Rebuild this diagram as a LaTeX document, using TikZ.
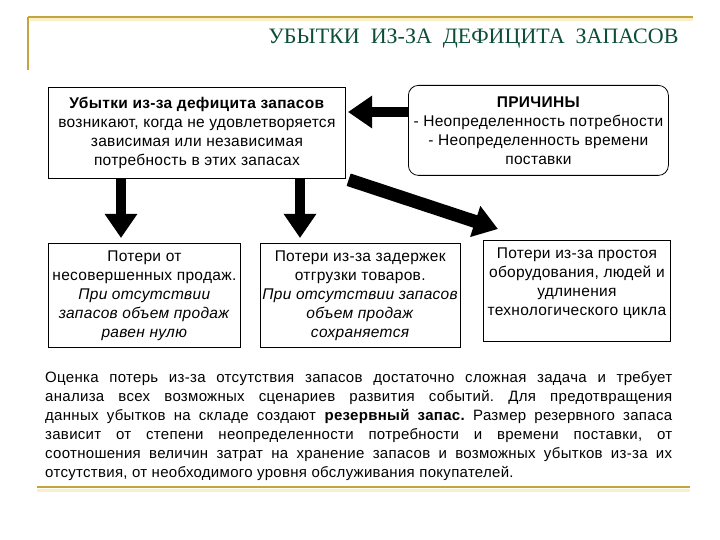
\documentclass[tikz,border=0pt]{standalone}
\usepackage{fontspec}
\setmainfont{Liberation Sans}[LetterSpace=2]
\newfontfamily\titlefont{Liberation Serif}
\usetikzlibrary{positioning, arrows.meta}
\definecolor{gold}{RGB}{196,164,62}
\definecolor{goldshade}{RGB}{250,240,200}
\definecolor{titlegreen}{RGB}{12,78,56}
\frenchspacing

\tikzset{
  box/.style={draw, line width=0.8pt, anchor=north west, align=center,
    inner sep=1pt, font=\fontsize{15.5}{19}\selectfont},
  fat/.style={line width=10pt, -{Triangle[length=24pt, width=31pt]}},
}

\begin{document}
\begin{tikzpicture}[x=1pt, y=-1pt]
\useasboundingbox (0,0) rectangle (720,540);

% frame lines
\draw[goldshade, line width=3pt] (30,20) -- (693,20);
\draw[gold, line width=2.5pt] (28,17) -- (693,17);
\draw[gold, line width=2.5pt] (28,17) -- (28,70);
\draw[goldshade, line width=3pt] (37,490) -- (690,490);
\draw[gold, line width=2.5pt] (37,487) -- (690,487);

\node[anchor=east, text=titlegreen, font=\titlefont\fontsize{22}{24}\selectfont]
  (title) at (682,39) {УБЫТКИ\ \ ИЗ-ЗА\ \ ДЕФИЦИТА\ \ ЗАПАСОВ};

% boxes
\node[box, minimum width=297pt, minimum height=91pt] (loss) at (48,87)
  {\textbf{Убытки из-за дефицита запасов}\\
   возникают, когда не удовлетворяется\\
   зависимая или независимая\\
   потребность в этих запасах};
\node[box, rounded corners=10pt, minimum width=260pt, minimum height=90pt]
  (cause) at (408,85)
  {\textbf{ПРИЧИНЫ}\\
   - Неопределенность потребности\\
   - Неопределенность времени\\
   поставки};

\node[box, minimum width=192pt, minimum height=104pt] (sales) at (48,243)
  {Потери от\\
   несовершенных продаж.\\
   \textit{При отсутствии}\\
   \textit{запасов объем продаж}\\
   \textit{равен нулю}};
\node[box, minimum width=200pt, minimum height=104pt, right=19pt of sales.north east,
  anchor=north west] (delay)
  {Потери из-за задержек\\
   отгрузки товаров.\\
   \textit{При отсутствии запасов}\\
   \textit{объем продаж}\\
   \textit{сохраняется}};
\node[box, minimum width=187pt, minimum height=101pt] (idle) at (483,240)
  {Потери из-за простоя\\
   оборудования, людей и\\
   удлинения\\
   технологического цикла\\
   \mbox{}};

% arrows
\coordinate (a1) at (121,238);
\coordinate (a2) at (300,238);
\coordinate (a3) at (498,229);
\coordinate (a4) at (348,112);
\draw[fat] (loss.south -| a1) -- (a1);
\draw[fat] (loss.south -| a2) -- (a2);
\draw[fat, line width=13pt, shorten <=3pt] (loss.south east) -- (a3);
\draw[fat] (cause.west |- a4) -- (a4);

% text
\node[anchor=north west, text width=627pt, align=justify, inner sep=0pt,
  font=\fontsize{15}{19.1}\selectfont] (note) at (45,371)
  {Оценка потерь из-за отсутствия запасов достаточно сложная задача и требует\linebreak
   анализа всех возможных сценариев развития событий. Для предотвращения\linebreak
   данных убытков на складе создают \textbf{резервный запас.} Размер резервного запаса\linebreak
   зависит от степени неопределенности потребности и времени поставки, от\linebreak
   соотношения величин затрат на хранение запасов и возможных убытков из-за их\linebreak
   отсутствия, от необходимого уровня обслуживания покупателей.};
\end{tikzpicture}
\end{document}
